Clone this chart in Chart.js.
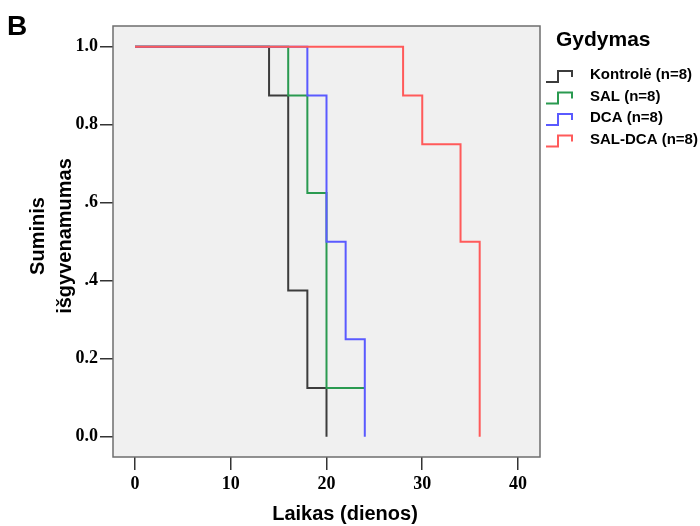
<!DOCTYPE html>
<html lang="lt">
<head>
    <meta charset="UTF-8">
    <title>Suminis išgyvenamumas</title>
    <script src="https://cdn.jsdelivr.net/npm/chart.js"></script>
    <style>
        body { margin: 0; background: #fff; }
        #wrap { width: 700px; height: 526px; }
    </style>
</head>
<body>
    <div id="wrap"><canvas id="kmChart" width="700" height="526"></canvas></div>

    <script>
        // Kaplan-Meier laiptai: laikas (dienos) ir išgyvenamumas
        const kontroleTime = [0, 14, 16, 18, 20];
        const kontroleSurv = [1.0, 0.875, 0.375, 0.125, 0.0];
        const salTime = [0, 16, 18, 20, 24];
        const salSurv = [1.0, 0.875, 0.625, 0.125, 0.125];
        const dcaTime = [0, 18, 20, 22, 24];
        const dcaSurv = [1.0, 0.875, 0.5, 0.25, 0.0];
        const salDcaTime = [0, 28, 30, 34, 36];
        const salDcaSurv = [1.0, 0.875, 0.75, 0.5, 0.0];

        const groupNames = ['Kontrolė (n=8)', 'SAL (n=8)', 'DCA (n=8)', 'SAL-DCA (n=8)'];
        const groupColors = ['#3c3c3c', '#2a9a50', '#5a5aff', '#ff5a5a'];

        const xTicks = [0, 10, 20, 30, 40];
        const yTicks = [0.0, 0.2, 0.4, 0.6, 0.8, 1.0];
        const yTickLabels = ['0.0', '0.2', '.4', '.6', '0.8', '1.0'];

        function toPoints(times, surv) {
            return times.map((t, i) => ({ x: t, y: surv[i] }));
        }

        const series = [
            toPoints(kontroleTime, kontroleSurv),
            toPoints(salTime, salSurv),
            toPoints(dcaTime, dcaSurv),
            toPoints(salDcaTime, salDcaSurv)
        ];

        // fonas, rėmelis, ašių pavadinimai ir legenda
        const decorations = {
            id: 'decorations',
            beforeDatasetsDraw(chart) {
                const { ctx, chartArea: a } = chart;
                ctx.save();
                ctx.fillStyle = '#f0f0f0';
                ctx.fillRect(a.left, a.top, a.right - a.left, a.bottom - a.top);
                ctx.restore();
            },
            afterDraw(chart) {
                const { ctx, chartArea: a } = chart;
                ctx.save();
                ctx.strokeStyle = '#6e6e6e';
                ctx.lineWidth = 1.5;
                ctx.strokeRect(a.left, a.top, a.right - a.left, a.bottom - a.top);

                ctx.fillStyle = '#000';
                ctx.font = 'bold 28px "Liberation Sans", Arial, sans-serif';
                ctx.textAlign = 'left';
                ctx.textBaseline = 'alphabetic';
                ctx.fillText('B', 7, 35);

                ctx.font = 'bold 20px "Liberation Sans", Arial, sans-serif';
                ctx.textAlign = 'center';
                ctx.textBaseline = 'middle';
                ctx.fillText('Laikas (dienos)', 345, 514);

                ctx.save();
                ctx.translate(38, 236);
                ctx.rotate(-Math.PI / 2);
                ctx.fillText('Suminis', 0, 0);
                ctx.restore();
                ctx.save();
                ctx.translate(65, 236);
                ctx.rotate(-Math.PI / 2);
                ctx.fillText('išgyvenamumas', 0, 0);
                ctx.restore();

                // legenda
                ctx.textAlign = 'left';
                ctx.font = 'bold 21px "Liberation Sans", Arial, sans-serif';
                ctx.fillText('Gydymas', 556, 40);
                ctx.font = 'bold 15px "Liberation Sans", Arial, sans-serif';
                groupNames.forEach((name, i) => {
                    const cy = 75 + i * 21.5;
                    ctx.strokeStyle = groupColors[i];
                    ctx.lineWidth = 2;
                    ctx.beginPath();
                    ctx.moveTo(546, cy + 7);
                    ctx.lineTo(558, cy + 7);
                    ctx.lineTo(558, cy - 4);
                    ctx.lineTo(572, cy - 4);
                    ctx.lineTo(572, cy + 2);
                    ctx.stroke();
                    ctx.fillStyle = '#000';
                    ctx.fillText(name, 590, cy);
                });
                ctx.restore();
            }
        };

        const tickFont = { family: '"Liberation Serif", "Times New Roman", serif', size: 18, weight: 'bold' };

        new Chart(document.getElementById('kmChart'), {
            type: 'line',
            data: {
                datasets: series.map((pts, i) => ({
                    label: groupNames[i],
                    data: pts,
                    borderColor: groupColors[i],
                    borderWidth: 2,
                    stepped: true,
                    pointRadius: 0,
                    fill: false,
                    order: 3 - i
                }))
            },
            options: {
                responsive: false,
                animation: false,
                layout: { padding: { top: 26, right: 160, left: 0, bottom: 0 } },
                plugins: {
                    legend: { display: false },
                    tooltip: { enabled: false }
                },
                scales: {
                    x: {
                        type: 'linear',
                        min: -2.3,
                        max: 42.3,
                        afterBuildTicks: s => { s.ticks = xTicks.map(v => ({ value: v })); },
                        afterFit: s => { s.height = 69; },
                        border: { display: false },
                        grid: { drawOnChartArea: false, drawTicks: true, tickLength: 13, color: '#333', lineWidth: 1.5 },
                        ticks: { font: tickFont, color: '#000', padding: 4, maxRotation: 0 }
                    },
                    y: {
                        type: 'linear',
                        min: -0.052,
                        max: 1.053,
                        afterBuildTicks: s => { s.ticks = yTicks.map(v => ({ value: v })); },
                        afterFit: s => { s.width = 113; },
                        border: { display: false },
                        grid: { drawOnChartArea: false, drawTicks: true, tickLength: 13, color: '#333', lineWidth: 1.5 },
                        ticks: {
                            font: tickFont,
                            color: '#000',
                            padding: 2,
                            callback: (v, i) => yTickLabels[i]
                        }
                    }
                }
            },
            plugins: [decorations]
        });
    </script>
</body>
</html>
